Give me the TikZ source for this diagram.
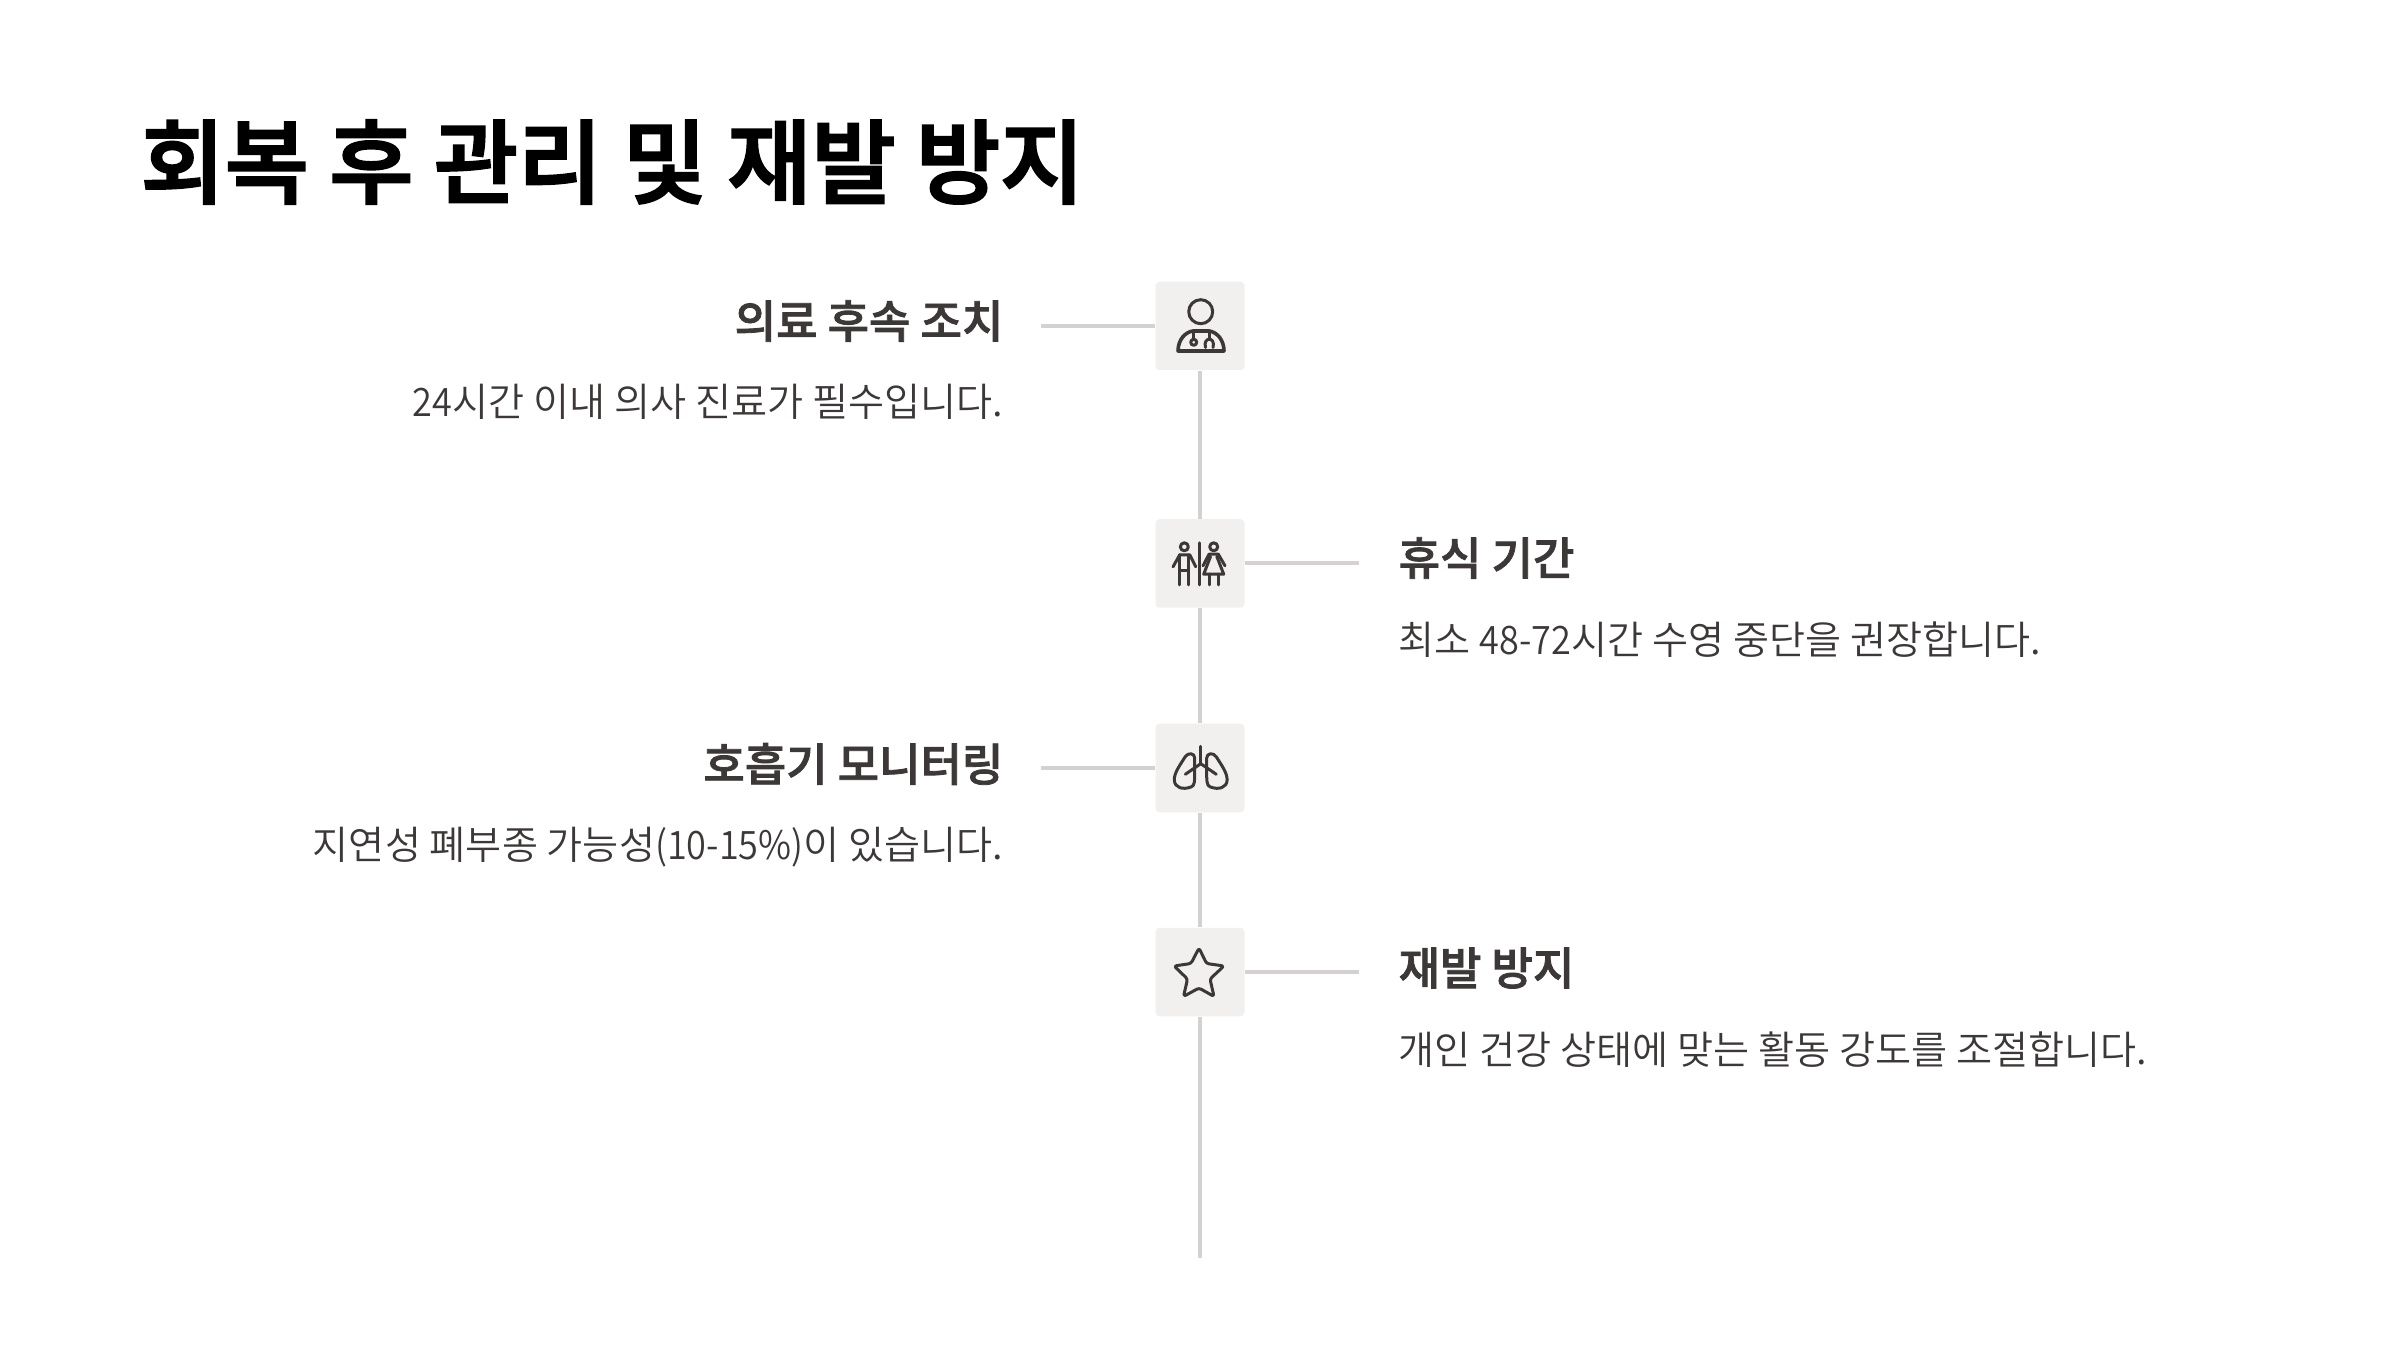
\documentclass[tikz,border=0pt]{standalone}
\usepackage{fontspec}
\setmainfont{Noto Sans CJK KR}
\newfontfamily\bodyfont{Noto Sans CJK KR DemiLight}
\newfontfamily\bodynarrow[FakeStretch=0.92]{Noto Sans CJK KR DemiLight}
\newfontfamily\headfont[FakeBold=1.8]{Noto Sans CJK KR Medium}
\newfontfamily\titlefont[FakeBold=2.6]{Noto Sans CJK KR Medium}
\newcommand{\nar}[1]{{\bodynarrow #1}}
\usetikzlibrary{positioning}
\definecolor{boxfill}{HTML}{F2EFEF}
\definecolor{railgray}{HTML}{D5D1D1}
\definecolor{inkdark}{HTML}{3D3838}
\tikzset{
    iconbox/.style={fill=boxfill, minimum width=0.89cm, minimum height=0.885cm, rounded corners=0.04cm, inner sep=0},
    rail/.style={draw=railgray, line width=0.04cm},
    headtext/.style={font=\fontsize{12.8}{15}\selectfont\headfont, text=inkdark, inner sep=0},
    bodytext/.style={font=\fontsize{11.16}{14}\selectfont\bodyfont, text=inkdark, inner sep=0},
    iconline/.style={draw=inkdark, line width=0.03cm, line cap=round, line join=round, x=0.01cm, y=-0.01cm}
}
\begin{document}
\begin{tikzpicture}
    \useasboundingbox (0, 0) rectangle (24, 13.68);
    % Title
    \node [font=\fontsize{26}{30}\selectfont\titlefont, text=black, inner sep=0, anchor=west] (title) at (1.40, 12.06) {회복 후 관리 및 재발 방지};

    % Icon boxes
    \node [iconbox] (box1) at (12, 10.42) {};
    \node [iconbox] (box2) at (12, 8.045) {};
    \node [iconbox] (box3) at (12, 6.00) {};
    \node [iconbox] (box4) at (12, 3.96) {};
    \coordinate (railend) at (12, 1.10);
    \coordinate (stub1) at (10.41, 10.42);
    \coordinate (stub2) at (13.59, 8.045);
    \coordinate (stub3) at (10.41, 6.00);
    \coordinate (stub4) at (13.59, 3.96);

    % Rail
    \draw [rail] (box1.south) -- (box2.north);
    \draw [rail] (box2.south) -- (box3.north);
    \draw [rail] (box3.south) -- (box4.north);
    \draw [rail] (box4.south) -- (railend);
    \draw [rail] (stub1) -- (box1.west);
    \draw [rail] (box2.east) -- (stub2);
    \draw [rail] (stub3) -- (box3.west);
    \draw [rail] (box4.east) -- (stub4);

    % Left and right texts
    \node [headtext, anchor=east] (head1) at (10.04, 10.47) {의료 후속 조치};
    \node [bodytext, anchor=east] (body1) at (10.04, 9.66) {\nar{24}시간 이내 의사 진료가 필수입니다.};
    \node [headtext, anchor=west] (head2) at (13.98, 8.10) {휴식 기간};
    \node [bodytext, anchor=west] (body2) at (13.98, 7.28) {최소 \nar{48-72}시간 수영 중단을 권장합니다.};
    \node [headtext, anchor=east] (head3) at (10.04, 6.04) {호흡기 모니터링};
    \node [bodytext, anchor=east] (body3) at (10.04, 5.21) {지연성 폐부종 가능성\nar{(10-15\%)}이 있습니다.};
    \node [headtext, anchor=west] (head4) at (13.98, 4.00) {재발 방지};
    \node [bodytext, anchor=west] (body4) at (13.98, 3.18) {개인 건강 상태에 맞는 활동 강도를 조절합니다.};

    % Doctor
    \begin{scope} [shift={(box1.center)}, iconline]
        \draw (0.7, -14.3) circle [radius=12];
        \draw [line width=0.036cm] (-22, 25) .. controls (-22, 14) and (-15, 6) .. (-7, 5) -- (9, 5) .. controls (17, 6) and (24, 14) .. (24, 25) -- cycle;
        \draw (-6.3, 5) -- (-6.3, 13);
        \draw (-6.3, 16.3) circle [radius=3];
        \draw (9.3, 5) -- (9.3, 12.5);
        \draw (5.5, 21.5) .. controls (2.5, 10.5) and (16, 10.5) .. (13, 21.5);
    \end{scope}

    % Man and woman
    \begin{scope} [shift={(box2.center)}, iconline]
        \draw (-1, -20.7) -- (-1, 21.3);
        \draw (-15.7, -16.7) circle [radius=4];
        \draw (-27, 3.3) -- (-20.3, -8.7) -- (-10.3, -8.7) -- (-4.3, 3.3);
        \draw (-20.3, -8.7) -- (-20.3, 21.3);
        \draw (-11.3, -8.7) -- (-11.3, 21.3);
        \draw (-20.3, 6.7) -- (-11.3, 6.7);
        \draw (13.7, -16.7) circle [radius=4];
        \draw (3, 2.3) -- (9, -9.3) -- (18.3, -9.3) -- (25, 2.3);
        \draw (10.5, -7) -- (3.7, 10.7) -- (23.7, 10.7) -- (16.8, -7);
        \draw (9, 10.7) -- (9, 21.3);
        \draw (18.3, 10.7) -- (18.3, 21.3);
    \end{scope}

    % Lungs
    \begin{scope} [shift={(box3.center)}, iconline]
        \draw (0.7, -21.7) -- (0.7, -4.3);
        \draw (-14.7, 6.3) -- (0.7, -4.3) -- (16.3, 6.3);
        \draw (-5.3, 4) -- (-5.3, -10) .. controls (-5.3, -15) and (-12, -16) .. (-15, -11) .. controls (-20, -3) and (-26, 5) .. (-25.7, 12) .. controls (-25.5, 20) and (-17, 22) .. (-9, 19) .. controls (-5, 18) and (-5.3, 12) .. cycle;
        \draw (6.7, 4) -- (6.7, -10) .. controls (6.7, -15) and (13.4, -16) .. (16.4, -11) .. controls (21.4, -3) and (27.4, 5) .. (27.1, 12) .. controls (26.9, 20) and (18.4, 22) .. (10.4, 19) .. controls (6.4, 18) and (6.7, 12) .. cycle;
    \end{scope}

    % Star
    \begin{scope} [shift={(box4.center)}, iconline, rounded corners=0.025cm]
        \draw (-1, -24) -- (6.5, -8.5) -- (24, -6) -- (10, 7) -- (14, 24.5) -- (-1, 16) -- (-16.5, 24.5) -- (-12.5, 7) -- (-26, -6) -- (-9, -8.5) -- cycle;
    \end{scope}
\end{tikzpicture}
\end{document}
